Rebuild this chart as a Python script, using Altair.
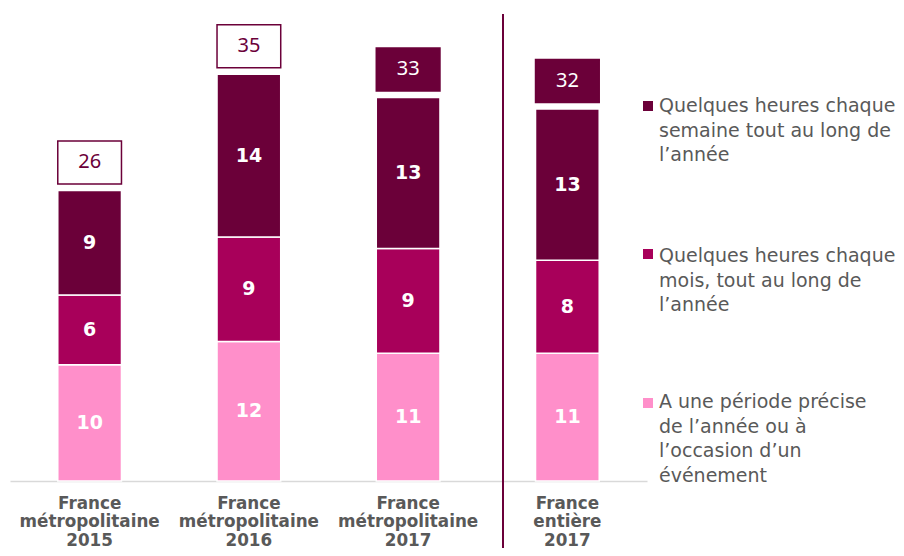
import altair as alt
import pandas as pd

# ---- data ----
categories = [
    "France\nmétropolitaine\n2015",
    "France\nmétropolitaine\n2016",
    "France\nmétropolitaine\n2017",
    "France\nentière\n2017",
]
series = [
    "A une période précise de l’année ou à l’occasion d’un événement",
    "Quelques heures chaque mois, tout au long de l’année",
    "Quelques heures chaque semaine tout au long de l’année",
]
ponctuel = [10, 12, 11, 11]
mensuel = [6, 9, 9, 8]
hebdo = [9, 14, 13, 13]
totals = [26, 35, 33, 32]

legend_lines = [
    ["Quelques heures chaque", "semaine tout au long de", "l’année"],
    ["Quelques heures chaque", "mois, tout au long de", "l’année"],
    ["A une période précise", "de l’année ou à", "l’occasion d’un", "événement"],
]

colors = ["#ff8fca", "#a8005a", "#6b0039"]
DARK = "#6b0039"
GREY = "#595959"

rows = []
for i, c in enumerate(categories):
    for k, vals in enumerate([ponctuel, mensuel, hebdo]):
        rows.append({"cat": c, "serie": series[k], "order": k, "value": vals[i]})
df = pd.DataFrame(rows)

tot_df = pd.DataFrame({"cat": categories, "total": totals})
tot_df["barsum"] = df.groupby("cat", sort=False)["value"].sum().reindex(categories).values

xenc = alt.X(
    "cat:N",
    sort=categories,
    scale=alt.Scale(paddingInner=0.6, paddingOuter=0.3),
    axis=alt.Axis(
        title=None, labelAngle=0, ticks=False, domainColor="#d9d9d9", domainWidth=1.5,
        labelFont="DejaVu Sans", labelFontWeight="bold", labelFontSize=16.8,
        labelColor=GREY, labelLineHeight=18.5, labelPadding=14,
        labelExpr="split(datum.label, '\\n')",
    ),
)
yscale = alt.Scale(domain=[0, 40], nice=False)

bars = alt.Chart(df).mark_bar(stroke="white", strokeWidth=1.5).encode(
    x=xenc,
    y=alt.Y("value:Q", stack="zero", scale=yscale, axis=None),
    color=alt.Color("serie:N", scale=alt.Scale(domain=series, range=colors), legend=None),
    order=alt.Order("order:Q"),
)

seg_text = alt.Chart(df).transform_stack(
    stack="value", groupby=["cat"], sort=[alt.SortField("order")], as_=["y0", "y1"]
).transform_calculate(mid="(datum.y0 + datum.y1) / 2").mark_text(
    font="DejaVu Sans", fontWeight="bold", fontSize=19, color="white", baseline="middle"
).encode(
    x=alt.X("cat:N", sort=categories),
    y=alt.Y("mid:Q", scale=yscale),
    text="value:Q",
)

is_outline = alt.FieldOneOfPredicate(field="cat", oneOf=categories[:2])

boxes = alt.Chart(tot_df).transform_calculate(
    lo="datum.barsum + 0.55", hi="datum.barsum + 4.25"
).mark_bar(stroke=DARK, strokeWidth=1.5).encode(
    x=alt.X("cat:N", sort=categories),
    y=alt.Y("lo:Q", scale=yscale),
    y2="hi:Q",
    fill=alt.condition(is_outline, alt.value("white"), alt.value(DARK)),
)

box_text = alt.Chart(tot_df).transform_calculate(
    mid="datum.barsum + 2.4"
).mark_text(font="Noto Sans", fontSize=20, baseline="middle").encode(
    x=alt.X("cat:N", sort=categories),
    y=alt.Y("mid:Q", scale=yscale),
    text="total:Q",
    color=alt.condition(is_outline, alt.value(DARK), alt.value("white")),
)

sep = alt.Chart(pd.DataFrame({"a": [0]})).mark_rule(color=DARK, strokeWidth=2).encode(
    x=alt.value(493), y=alt.value(-2), y2=alt.value(545)
)

layers = [bars, seg_text, boxes, box_text, sep]
legend_y = [96, 246, 392]
square_y = [90, 238, 387]
legend_colors = [colors[2], colors[1], colors[0]]
for lines, ty, sy, col in zip(legend_lines, legend_y, square_y, legend_colors):
    d = pd.DataFrame({"a": [0]})
    layers.append(
        alt.Chart(d).mark_square(size=100, color=col, opacity=1, strokeWidth=0).encode(
            x=alt.value(638), y=alt.value(sy)
        )
    )
    layers.append(
        alt.Chart(d).mark_text(
            text=lines, font="DejaVu Sans", fontSize=19, color=GREY, align="left",
            baseline="alphabetic", lineHeight=24.5,
        ).encode(x=alt.value(649), y=alt.value(ty))
    )

chart = alt.layer(*layers).properties(
    width=637, height=465,
    padding={"left": 2, "top": 8, "right": 249, "bottom": 67},
    autosize=alt.AutoSizeParams(type="none"),
).configure_view(stroke=None)

chart.save("out.html", embed_options={"renderer": "svg", "actions": False})
